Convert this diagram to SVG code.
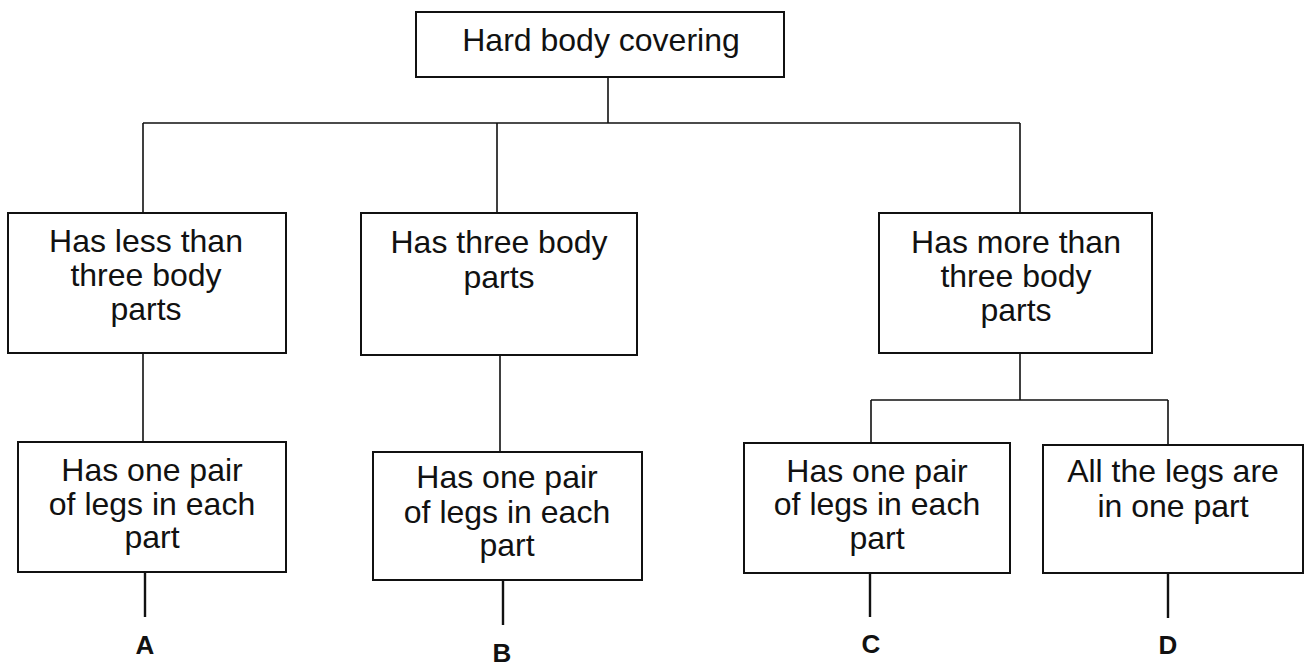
<svg xmlns="http://www.w3.org/2000/svg" width="1311" height="666" viewBox="0 0 1311 666">
<style>
.box{fill:#fff;stroke:#111;stroke-width:2}
.t{font-family:"Liberation Sans",Arial,sans-serif;fill:#111;text-anchor:middle}
.top{font-size:32px}
.m{font-size:32px}
.lbl{font-family:"Liberation Sans",Arial,sans-serif;font-size:26px;font-weight:bold;fill:#111;text-anchor:middle}
.c{stroke:#111;stroke-width:1.6;fill:none}
.s{stroke:#111;stroke-width:2.4;fill:none}
</style>
<rect width="1311" height="666" fill="#fff"/>
<g id="connectors">
<path class="c" d="M608,77 V123 M143,123 H1020 M143,123 V213 M497,123 V213 M1020,123 V213"/>
<path class="c" d="M143,353 V442 M500,355 V452 M1020,353 V400 M871,400 H1168 M871,400 V443 M1168,400 V445"/>
<path class="s" d="M145,572 V617 M503,580 V625 M870,573 V617 M1168,573 V618"/>
</g>
<g id="n0">
<rect class="box" x="416" y="12" width="368" height="65"/>
<text class="t top" x="601" y="51">Hard body covering</text>
</g>
<g id="n1">
<rect class="box" x="8" y="213" width="278" height="140"/>
<text class="t m" x="146" y="252">Has less than</text>
<text class="t m" x="146" y="286">three body</text>
<text class="t m" x="146" y="320">parts</text>
</g>
<g id="n2">
<rect class="box" x="361" y="213" width="276" height="142"/>
<text class="t m" x="499" y="253">Has three body</text>
<text class="t m" x="499" y="288">parts</text>
</g>
<g id="n3">
<rect class="box" x="879" y="213" width="273" height="140"/>
<text class="t m" x="1016" y="253">Has more than</text>
<text class="t m" x="1016" y="287">three body</text>
<text class="t m" x="1016" y="321">parts</text>
</g>
<g id="nA">
<rect class="box" x="18" y="442" width="268" height="130"/>
<text class="t m" x="152" y="481">Has one pair</text>
<text class="t m" x="152" y="515">of legs in each</text>
<text class="t m" x="152" y="548">part</text>
</g>
<g id="nB">
<rect class="box" x="373" y="452" width="269" height="128"/>
<text class="t m" x="507" y="488">Has one pair</text>
<text class="t m" x="507" y="523">of legs in each</text>
<text class="t m" x="507" y="556">part</text>
</g>
<g id="nC">
<rect class="box" x="744" y="443" width="266" height="130"/>
<text class="t m" x="877" y="482">Has one pair</text>
<text class="t m" x="877" y="515">of legs in each</text>
<text class="t m" x="877" y="549">part</text>
</g>
<g id="nD">
<rect class="box" x="1043" y="445" width="260" height="128"/>
<text class="t m" x="1173" y="482">All the legs are</text>
<text class="t m" x="1173" y="517">in one part</text>
</g>
<g id="labels">
<text class="lbl" x="145" y="654">A</text>
<text class="lbl" x="502" y="662">B</text>
<text class="lbl" x="871" y="653">C</text>
<text class="lbl" x="1168" y="654">D</text>
</g>
</svg>
